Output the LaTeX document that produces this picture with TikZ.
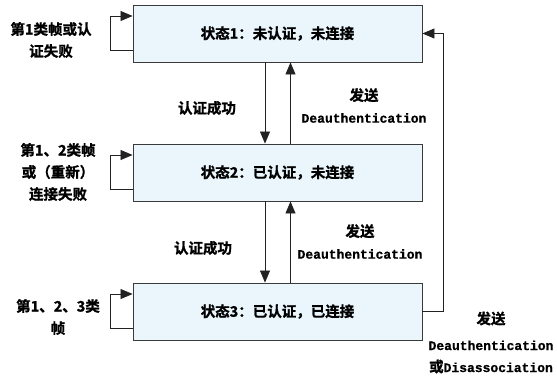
\documentclass[tikz,border=0pt]{standalone}
\usepackage{fontspec}
\setmainfont[BoldFont={Noto Sans CJK SC Bold}, BoldFeatures={FakeBold=1.2}]{Noto Sans CJK SC}
\newfontfamily\monof[BoldFeatures={FakeBold=0.8}]{Liberation Mono}
\usetikzlibrary{arrows.meta}
\definecolor{boxfill}{HTML}{EAF5FC}
\definecolor{boxline}{HTML}{3A3A3A}
\definecolor{linec}{HTML}{222222}
\tikzset{
  statebox/.style={draw=boxline, fill=boxfill, line width=0.9pt, minimum width=289pt, minimum height=57pt, inner sep=0pt, font=\fontsize{14.5pt}{22pt}\selectfont\bfseries},
  arr/.style={draw=linec, line width=0.8pt, -{Triangle[length=12pt,width=10pt]}},
  lbl/.style={align=center, inner sep=0pt, font=\fontsize{14.5pt}{22pt}\selectfont\bfseries}
}
\newcommand{\mtext}[1]{{\monof\fontsize{13pt}{22pt}\selectfont\bfseries #1}}
\begin{document}
\begin{tikzpicture}[x=1pt,y=-1pt]
\useasboundingbox (0,0) rectangle (557,377);
\node[statebox] (s1) at (277.5,33.5) {状态1：未认证，未连接};
\node[statebox] (s2) at (277.5,172.5) {状态2：已认证，未连接};
\node[statebox] (s3) at (277.5,311.5) {状态3：已认证，已连接};
% self loops
\draw[arr] ([yshift=-16.5pt]s1.west) -- ++(-22pt,0) |- ([yshift=17.5pt]s1.west);
\draw[arr] ([yshift=-16.5pt]s2.west) -- ++(-22pt,0) |- ([yshift=17.5pt]s2.west);
\draw[arr] ([yshift=-16.5pt]s3.west) -- ++(-22pt,0) |- ([yshift=17.5pt]s3.west);
% down arrows
\draw[arr] ([xshift=-12.5pt]s1.south) -- ([xshift=-12.5pt]s2.north);
\draw[arr] ([xshift=-12.5pt]s2.south) -- ([xshift=-12.5pt]s3.north);
% up arrows
\draw[arr] ([xshift=13pt]s2.north) -- ([xshift=13pt]s1.south);
\draw[arr] ([xshift=13pt]s3.north) -- ([xshift=13pt]s2.south);
% right loop
\draw[arr] (s3.east) -- ++(21pt,0) |- (s1.east);
% labels
\node[lbl] (l1) at (51,40) {第1类帧或认\\证失败};
\node[lbl] (l2) at (58,172) {第1、2类帧\\或（重新）\\连接失败};
\node[lbl] (l3) at (58,317) {第1、2、3类\\帧};
\node[lbl] (a1) at (207,108) {认证成功};
\node[lbl] (a2) at (203,248) {认证成功};
\node[lbl] (d1) at (364,105.5) {发送\\\mtext{Deauthentication}};
\node[lbl] (d2) at (360,241.5) {发送\\\mtext{Deauthentication}};
\node[lbl] (d3) at (491,342.5) {发送\\[4pt]\mtext{Deauthentication}\\或\mtext{Disassociation}};
\end{tikzpicture}
\end{document}
